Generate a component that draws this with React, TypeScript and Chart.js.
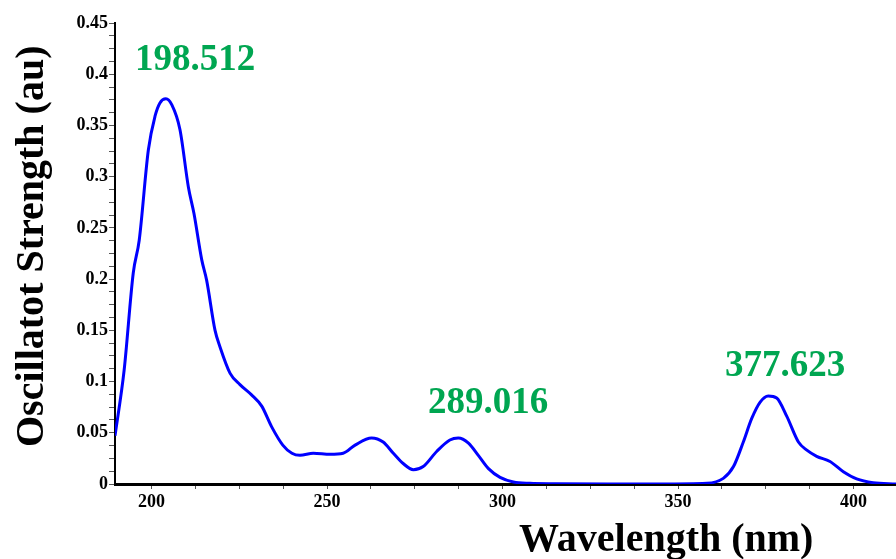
import React, { useEffect, useRef } from "react";
import { Chart, registerables } from "chart.js";

Chart.register(...registerables);

const wavelengths = [
  189.6, 192.2, 194.8, 196.5, 199.1, 201.0, 202.4, 204.1, 205.8, 208.1, 210.5, 212.1,
  214.3, 215.7, 218.1, 219.5, 222.4, 225.2, 228.5, 231.4, 234.2, 237.4, 240.0, 242.3,
  246.1, 250.9, 254.6, 258.0, 262.7, 266.0, 268.9, 271.7, 274.6, 277.4, 281.3, 285.0,
  287.4, 290.3, 293.1, 296.0, 299.3, 303.1, 307.8, 315.0, 330.0, 345.0, 358.2, 362.9,
  365.8, 368.6, 371.0, 373.4, 375.7, 378.1, 381.0, 384.3, 386.7, 389.5, 393.3, 397.1,
  400.9, 405.6, 412.1,
];

const strengths = [
  0.047, 0.111, 0.206, 0.238, 0.326, 0.359, 0.372, 0.376, 0.370, 0.346, 0.290, 0.264,
  0.219, 0.199, 0.150, 0.134, 0.108, 0.097, 0.087, 0.076, 0.056, 0.038, 0.030, 0.028,
  0.030, 0.029, 0.030, 0.038, 0.045, 0.041, 0.030, 0.020, 0.014, 0.017, 0.032, 0.043,
  0.045, 0.040, 0.028, 0.015, 0.0065, 0.002, 0.0007, 0.0003, 0.0, 0.0, 0.0007, 0.0055,
  0.017, 0.041, 0.064, 0.080, 0.086, 0.084, 0.066, 0.041, 0.033, 0.027, 0.022, 0.012,
  0.005, 0.0013, 0.0,
];

const peakLabels = ["198.512", "289.016", "377.623"];
const peakLabelX = [212.4, 295.9, 380.5];
const peakLabelY = [0.404, 0.0693, 0.1054];

const xMin = 189.6;
const xMax = 412.1;
const yMin = 0;
const yMax = 0.45;

const xTitle = "Wavelength (nm)";
const yTitle = "Oscillatot Strength (au)";

const SERIF = "'Liberation Serif', 'Times New Roman', serif";

export default function App() {
  const ref = useRef<HTMLCanvasElement | null>(null);

  useEffect(() => {
    document.body.style.margin = "0";
    const canvas = ref.current;
    if (!canvas) return;

    const textPlugin = {
      id: "texts",
      afterDraw(chart: any) {
        const ctx = chart.ctx;
        const xs = chart.scales.x;
        const ys = chart.scales.y;
        ctx.save();
        // peak annotations
        ctx.fillStyle = "#00a651";
        ctx.font = `bold 37px ${SERIF}`;
        ctx.textAlign = "center";
        ctx.textBaseline = "alphabetic";
        peakLabels.forEach((t, i) => {
          ctx.fillText(t, xs.getPixelForValue(peakLabelX[i]), ys.getPixelForValue(peakLabelY[i]));
        });
        // axis titles
        ctx.fillStyle = "#000";
        ctx.font = `bold 40px ${SERIF}`;
        ctx.textAlign = "left";
        ctx.fillText(xTitle, 519, 551);
        ctx.translate(43, 447);
        ctx.rotate(-Math.PI / 2);
        ctx.textAlign = "left";
        ctx.fillText(yTitle, 0, 0);
        ctx.restore();
      },
    };

    const chart = new Chart(canvas, {
      type: "line",
      data: {
        datasets: [
          {
            data: wavelengths.map((w, i) => ({ x: w, y: strengths[i] })),
            borderColor: "#0000ff",
            borderWidth: 3,
            pointRadius: 0,
            fill: false,
            cubicInterpolationMode: "monotone",
          },
        ],
      },
      options: {
        animation: false,
        responsive: false,
        devicePixelRatio: 1,
        layout: { padding: { top: 23, right: 0, left: 0, bottom: 0 } },
        plugins: {
          legend: { display: false },
          tooltip: { enabled: false },
        },
        scales: {
          x: {
            type: "linear",
            min: xMin,
            max: xMax,
            afterFit: (s: any) => {
              s.height = 75;
            },
            border: { color: "#000", width: 3 },
            grid: {
              drawOnChartArea: false,
              drawTicks: true,
              tickLength: 5,
              tickColor: "#555",
              tickWidth: 1,
            },
            ticks: {
              stepSize: 12.5,
              includeBounds: false,
              autoSkip: false,
              maxRotation: 0,
              color: "#000",
              padding: 3,
              font: { family: SERIF, weight: "bold", size: 18 },
              callback: (v: any) => {
                const n = Number(v);
                return Math.abs(n / 50 - Math.round(n / 50)) < 1e-6 ? String(Math.round(n)) : "";
              },
            },
          },
          y: {
            min: yMin,
            max: yMax,
            afterFit: (s: any) => {
              s.width = 115;
            },
            border: { color: "#000", width: 2 },
            grid: {
              drawOnChartArea: false,
              drawTicks: true,
              tickLength: 6,
              tickColor: "#555",
              tickWidth: 1,
            },
            ticks: {
              stepSize: 0.0125,
              includeBounds: false,
              autoSkip: false,
              color: "#000",
              padding: 1,
              font: { family: SERIF, weight: "bold", size: 18 },
              callback: (v: any) => {
                const n = Number(v);
                const k = Math.round(n / 0.0125);
                if (k % 4 !== 0) return "";
                return String(parseFloat(n.toFixed(2)));
              },
            },
          },
        },
      },
      plugins: [textPlugin],
    });

    return () => chart.destroy();
  }, []);

  return (
    <div style={{ width: 896, height: 559, background: "#fff" }}>
      <canvas ref={ref} width={896} height={559} />
    </div>
  );
}
